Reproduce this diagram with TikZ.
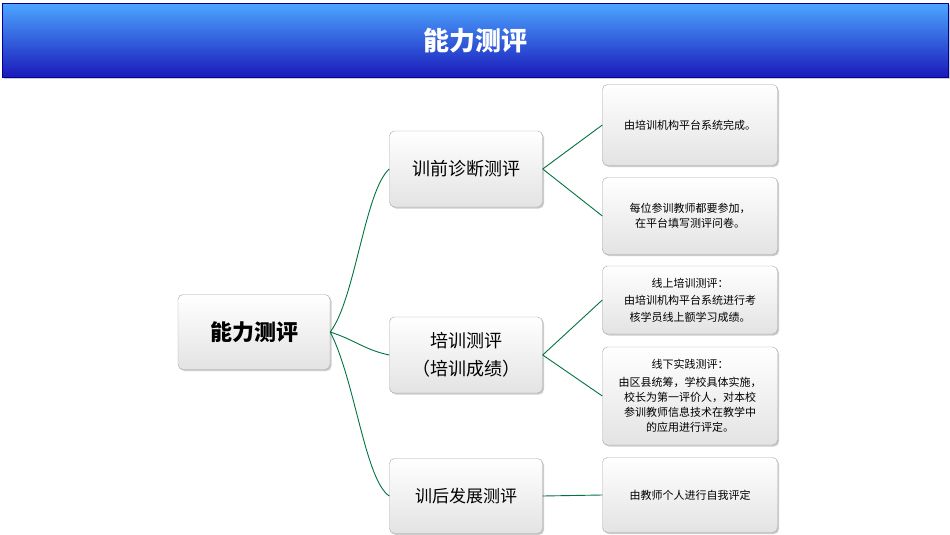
\documentclass[tikz,border=0pt]{standalone}
\usepackage{fontspec}
\setmainfont{Noto Sans CJK SC}
\usetikzlibrary{shadows}
\begin{document}
\begin{tikzpicture}[x=1pt,y=-1pt,
  box/.style={draw=gray!70,rounded corners=5pt,top color=white,bottom color=gray!22,
    drop shadow={shadow xshift=1.5pt,shadow yshift=-1.5pt,opacity=.4},align=center,inner sep=2pt},
  link/.style={draw=teal!70!green!70!black,line width=0.9pt}]
\useasboundingbox (0,0) rectangle (950,535);
\fill[white] (0,0) rectangle (950,535);
\node[draw=blue!60!black,top color=blue!50!cyan!70,bottom color=blue!70!black!90,
  minimum width=946pt,minimum height=74pt,anchor=north west,
  drop shadow={shadow xshift=1.5pt,shadow yshift=-2pt,opacity=.4}] (title) at (2,3) {};
\node[text=white,font=\bfseries\fontsize{26}{30}\selectfont] (tt) at (475,41) {能力测评};
\node[box,minimum width=152pt,minimum height=75pt,font=\bfseries\fontsize{22}{26}\selectfont] (root) at (254,332) {能力测评};
\node[box,minimum width=153pt,minimum height=76pt,font=\fontsize{18}{22}\selectfont] (a) at (466,169) {训前诊断测评};
\node[box,minimum width=153pt,minimum height=76pt,font=\fontsize{18}{28}\selectfont] (b) at (466,355) {培训测评\\（培训成绩）};
\node[box,minimum width=153pt,minimum height=75pt,font=\fontsize{17}{22}\selectfont] (c) at (466,496) {训后发展测评};
\tikzset{leaf/.style={box,minimum width=175pt,font=\fontsize{11}{15}\selectfont}}
\node[leaf,minimum height=81pt] (l1) at (690,125) {由培训机构平台系统完成。};
\node[leaf,minimum height=77pt] (l2) at (690,216) {每位参训教师都要参加，\\在平台填写测评问卷。};
\node[leaf,minimum height=68pt,font=\fontsize{11}{17}\selectfont] (l3) at (690,300) {线上培训测评：\\由培训机构平台系统进行考\\核学员线上额学习成绩。};
\node[leaf,minimum height=98pt,font=\fontsize{11}{15}\selectfont] (l4) at (690,396) {线下实践测评：\\[3pt]由区县统筹，学校具体实施，\\校长为第一评价人，对本校\\参训教师信息技术在教学中\\的应用进行评定。};
\node[leaf,minimum height=75pt] (l5) at (690,495) {由教师个人进行自我评定};
\draw[link] (root.east) .. controls (355,300) and (365,190) .. (a.west);
\draw[link] (root.east) .. controls (355,340) and (365,350) .. (b.west);
\draw[link] (root.east) .. controls (355,380) and (365,480) .. (c.west);
\draw[link] (a.east) -- (l1.west);
\draw[link] (a.east) -- (l2.west);
\draw[link] (b.east) -- (l3.west);
\draw[link] (b.east) -- (l4.west);
\draw[link] (c.east) -- (l5.west);
\end{tikzpicture}
\end{document}
